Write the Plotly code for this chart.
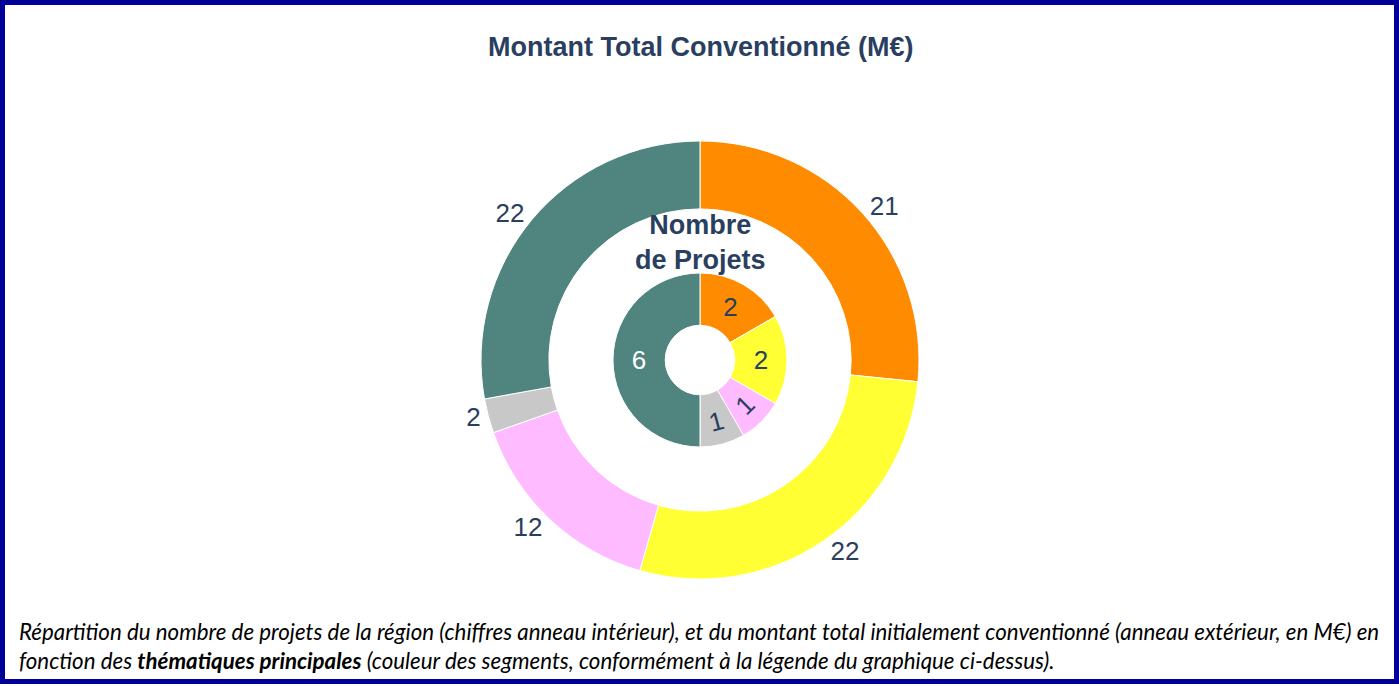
import plotly.graph_objects as go

W, H = 1399, 686

themes = ["Thème A", "Thème B", "Thème C", "Thème D", "Thème E"]
montant = [21, 22, 12, 2, 22]      # outer ring, M€
projets = [2, 2, 1, 1, 6]          # inner ring, nombre de projets
colors = ["#FF8C00", "#FFFF33", "#FFBBFF", "#C8C8C8", "#50847E"]
inner_text_colors = ["#2a3f5f", "#2a3f5f", "#2a3f5f", "#2a3f5f", "#FFFFFF"]
# slices whose label is written along the ring (tangential) in the reference
tangential = [False, False, True, True, False]

title_text = "Montant Total Conventionné (M€)"
inner_title = "Nombre<br>de Projets"
caption = ("<i>Répartition du nombre de projets de la région (chiffres anneau intérieur), et du montant total "
           "initialement conventionné (anneau extérieur, en M€) en<br>fonction des <b>thématiques principales</b> "
           "(couleur des segments, conformément à la légende du graphique ci-dessus).</i>")

cx, cy = 700, 360
R_out, R_in = 219, 87
FONT = "Liberation Sans, Arial, sans-serif"


def dom(r):
    return dict(x=[(cx - r) / W, (cx + r) / W],
                y=[(H - cy - r) / H, (H - cy + r) / H])


fig = go.Figure()
fig.add_trace(go.Pie(
    labels=themes, values=montant, sort=False, direction="clockwise", rotation=0,
    hole=0.69, domain=dom(R_out),
    marker=dict(colors=colors, line=dict(color="white", width=1)),
    textinfo="value", textposition="outside",
    textfont=dict(family=FONT, size=26, color="#2a3f5f"),
    showlegend=False, hoverinfo="label+value",
))
# inner ring, horizontal labels
fig.add_trace(go.Pie(
    labels=themes, values=projets, sort=False, direction="clockwise", rotation=0,
    hole=0.40, domain=dom(R_in),
    marker=dict(colors=colors, line=dict(color="white", width=1)),
    text=["" if t else str(v) for v, t in zip(projets, tangential)],
    textinfo="text", textposition="inside", insidetextorientation="horizontal",
    textfont=dict(family=FONT, size=26, color=inner_text_colors),
    showlegend=False, hoverinfo="label+value",
))
# inner ring, tangential labels (transparent overlay)
fig.add_trace(go.Pie(
    labels=themes, values=projets, sort=False, direction="clockwise", rotation=0,
    hole=0.40, domain=dom(R_in),
    marker=dict(colors=["rgba(0,0,0,0)"] * len(projets), line=dict(width=0)),
    text=[str(v) if t else "" for v, t in zip(projets, tangential)],
    textinfo="text", textposition="inside", insidetextorientation="tangential",
    textfont=dict(family=FONT, size=26, color=inner_text_colors),
    showlegend=False, hoverinfo="skip",
))

fig.update_layout(
    width=W, height=H,
    margin=dict(l=0, r=0, t=0, b=0),
    paper_bgcolor="white", plot_bgcolor="white",
    annotations=[
        dict(text="<b>" + title_text + "</b>", xref="paper", yref="paper",
             x=cx / W, y=1 - 47 / H, xanchor="center", yanchor="middle",
             showarrow=False, font=dict(family=FONT, size=27, color="#2a3f5f")),
        dict(text="<b>" + inner_title + "</b>", xref="paper", yref="paper",
             x=cx / W, y=1 - 243 / H, xanchor="center", yanchor="middle",
             showarrow=False, font=dict(family=FONT, size=27, color="#2a3f5f")),
        dict(text=caption, xref="paper", yref="paper", x=17 / W, y=1 - 646 / H,
             xanchor="left", yanchor="middle", align="left", showarrow=False,
             font=dict(family="Lato", size=22.3, color="#000000")),
    ],
    shapes=[dict(type="rect", xref="paper", yref="paper",
                 x0=2.5 / W, x1=1 - 2.5 / W, y0=4.5 / H, y1=1 - 2.5 / H,
                 line=dict(color="#000099", width=5), fillcolor="rgba(0,0,0,0)")],
)

fig.write_html("out.html", config={"displayModeBar": False},
               post_script="document.body.style.margin='0';document.body.style.overflow='hidden';")
